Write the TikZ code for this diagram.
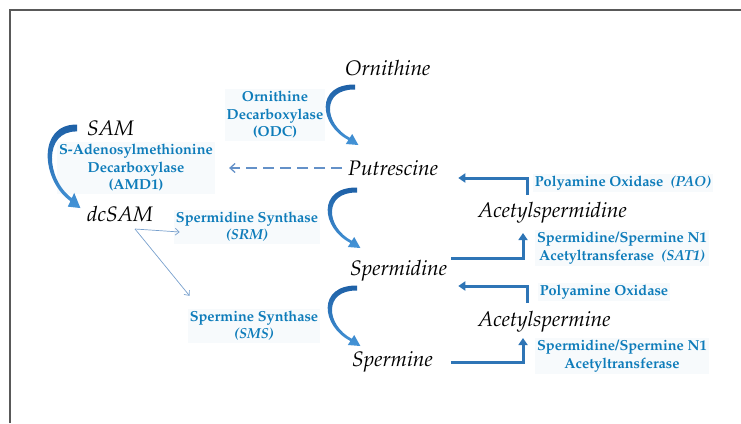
\documentclass[tikz,border=0pt]{standalone}
\usepackage[T1]{fontenc}
\usepackage{mathpazo}
\usetikzlibrary{positioning,arrows.meta,calc}

\definecolor{enzblue}{RGB}{14,124,186}
\definecolor{arcdark}{RGB}{30,96,166}
\definecolor{arclight}{RGB}{68,148,215}
\definecolor{lblue}{RGB}{46,117,182}
\definecolor{thinblue}{RGB}{120,160,205}
\definecolor{dashblue}{RGB}{100,145,200}
\definecolor{labelbg}{RGB}{247,250,252}

\tikzset{
 chem/.style={font=\fontsize{21}{24}\selectfont\itshape, inner sep=1pt, anchor=west},
 enzyme/.style={font=\fontsize{14.5}{17.5}\selectfont\bfseries, text=enzblue, align=center, fill=labelbg, inner sep=2pt},
 larrow/.style={draw=lblue, line width=3pt, -{Triangle[length=7pt,width=9pt]}},
 thinarrow/.style={draw=thinblue, line width=0.7pt, -{Straight Barb[length=4pt,width=7pt]}},
 dashline/.style={draw=dashblue, line width=1.3pt, dash pattern=on 11pt off 6pt, -{Straight Barb[length=5pt,width=9pt]}}
}

% curved reaction arrow, #2 = top start point
\newcommand{\bendarrow}[2][1]{%
 \shade[top color=arcdark, bottom color=arclight, shift={#2}, yscale=#1]
 (0,-2.5) .. controls (-40,-3) and (-36,38) .. (-6.6,53) -- (-9.2,57) -- (3.4,58)
 -- (-2.8,47) -- (-5.2,50.8) .. controls (-31,37) and (-34,2) .. (0,2.5) -- cycle;}

\begin{document}
\begin{tikzpicture}[x=1pt,y=-1pt]
 \useasboundingbox (0,0) rectangle (741,423);
 \draw[gray!70!black, line width=1.2pt] (10,423) -- (10,10) -- (741,10);

 % metabolites
 \node[chem] (orn) at (344,68) {Ornithine};
 \node[chem] (put) at (347,168) {Putrescine};
 \node[chem] (spd) at (349,271) {Spermidine};
 \node[chem] (spm) at (351,362) {Spermine};
 \node[chem] (sam) at (86,128) {SAM};
 \node[chem] (dcsam) at (86,214) {dcSAM};
 \node[chem] (acspd) at (477,213) {Acetylspermidine};
 \node[chem] (acspm) at (477,322) {Acetylspermine};

 % enzymes
 \node[enzyme] (odc) at (275,115) {Ornithine\\Decarboxylase\\(ODC)};
 \node[enzyme] (amd) at (136,168) {S-Adenosylmethionine\\Decarboxylase\\(AMD1)};
 \node[enzyme] (srm) at (247,227) {Spermidine Synthase\\\textit{(SRM)}};
 \node[enzyme] (sms) at (254,326) {Spermine Synthase\\\textit{(SMS)}};
 \node[enzyme] (pao) at (623,183) {Polyamine Oxidase\ \ \textit{(PAO)}};
 \node[enzyme] (sat) at (622,248) {Spermidine/Spermine N1\\Acetyltransferase\ \ \textit{(SAT1)}};
 \node[enzyme] (pao2) at (604,292) {Polyamine Oxidase};
 \node[enzyme] (sat2) at (622,356) {Spermidine/Spermine N1\\Acetyltransferase};

 % curved arrows
 \bendarrow{($(orn.west)+(11,19)$)}
 \bendarrow{($(put.west)+(10,22)$)}
 \bendarrow{($(spd.west)+(8,17)$)}
 \bendarrow[1.38]{($(sam.west)+(-9,0)$)}

 \draw[dashline] ([xshift=-5pt]put.west) -- ([xshift=14pt]amd.east |- put.west);

 \coordinate (fork) at ([xshift=49pt,yshift=-15pt]dcsam.west);
 \draw[thinarrow] (fork) -- ([xshift=6pt,yshift=-5pt]srm.west);
 \draw[thinarrow] (fork) -- ([xshift=2pt,yshift=13pt]sms.north west);

 \draw[larrow] ([xshift=50pt,yshift=18pt]acspd.west) |- ([xshift=19pt,yshift=-10pt]put.east);
 \draw[larrow] ([xshift=3pt,yshift=13pt]spd.east) -| ([xshift=46pt,yshift=-20pt]acspd.west);
 \draw[larrow] ([xshift=50pt,yshift=19pt]acspm.west) |- ([xshift=10pt,yshift=-15pt]spd.east);
 \draw[larrow] ([xshift=17pt]spm.east) -| ([xshift=46pt,yshift=-16pt]acspm.west);
\end{tikzpicture}
\end{document}
